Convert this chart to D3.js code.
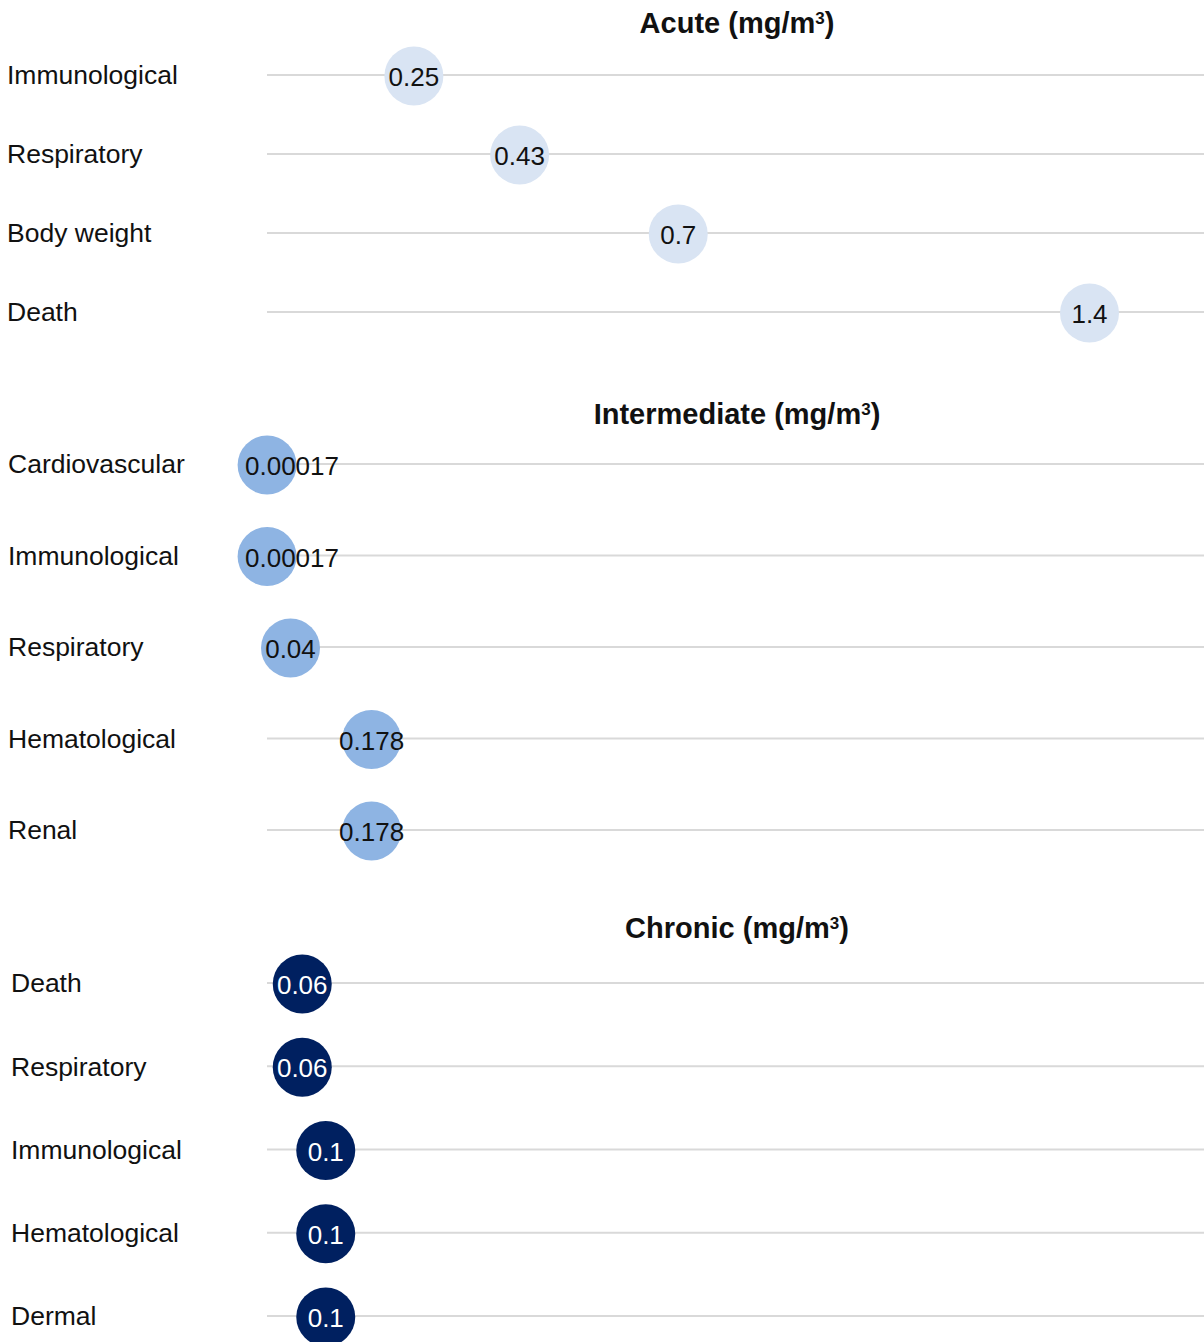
<!DOCTYPE html>
<html>
<head>
<meta charset="utf-8">
<script src="https://cdn.jsdelivr.net/npm/d3@7"></script>
<style>
  body { margin: 0; background: #fff; }
  svg { display: block; font-family: "Liberation Sans", Arial, sans-serif; }
</style>
</head>
<body>
<div id="chart"></div>
<script>
const width = 1204;
const height = 1342;

// data
const acuteLabels = ['Immunological', 'Respiratory', 'Body weight', 'Death'];
const acuteValues = [0.25, 0.43, 0.7, 1.4];
const intermediateLabels = ['Cardiovascular', 'Immunological', 'Respiratory', 'Hematological', 'Renal'];
const intermediateValues = [0.00017, 0.00017, 0.04, 0.178, 0.178];
const intermediateText = ['0.00017', '0.00017', '0.04', '0.178', '0.178'];
const chronicLabels = ['Death', 'Respiratory', 'Immunological', 'Hematological', 'Dermal'];
const chronicValues = [0.06, 0.06, 0.1, 0.1, 0.1];
const panelTitles = ['Acute (mg/m', 'Intermediate (mg/m', 'Chronic (mg/m'];

// layout
const panels = [
  {title: panelTitles[0], labels: acuteLabels, values: acuteValues, text: acuteValues.map(String),
    rows: [75, 312], titleY: 23, labelX: 7, fill: '#d9e4f3', textColor: '#111'},
  {title: panelTitles[1], labels: intermediateLabels, values: intermediateValues, text: intermediateText,
    rows: [464, 830], titleY: 414, labelX: 8, fill: '#8eb4e3', textColor: '#111'},
  {title: panelTitles[2], labels: chronicLabels, values: chronicValues, text: chronicValues.map(String),
    rows: [983, 1316], titleY: 928, labelX: 11, fill: '#002060', textColor: '#fff'},
];

const x = d3.scaleLinear().domain([0, 1.6]).range([267, 1207]);
const r = 29.5;

const svg = d3.select('#chart').append('svg')
  .attr('width', width).attr('height', height);

panels.forEach((p) => {
  const g = svg.append('g');
  const y = d3.scalePoint().domain(p.labels.map((d, i) => i)).range(p.rows);
  const rows = p.labels.map((label, i) => ({label, value: p.values[i], text: p.text[i], i}));

  const title = g.append('text')
    .attr('x', (x.range()[0] + x.range()[1]) / 2)
    .attr('y', p.titleY)
    .attr('dy', '0.35em')
    .attr('text-anchor', 'middle')
    .style('font-size', '29px')
    .style('font-weight', 'bold')
    .style('fill', '#111')
    .text(p.title);
  title.append('tspan')
    .attr('baseline-shift', 'super')
    .style('font-size', '17px')
    .text('3');
  title.append('tspan').text(')');

  g.selectAll('.grid')
    .data(rows)
    .enter()
    .append('line')
    .attr('class', 'grid')
    .attr('x1', x(0))
    .attr('x2', width)
    .attr('y1', (d) => y(d.i))
    .attr('y2', (d) => y(d.i))
    .style('stroke', '#d9d9d9')
    .style('stroke-width', 2);

  g.selectAll('.cat')
    .data(rows)
    .enter()
    .append('text')
    .attr('class', 'cat')
    .attr('x', p.labelX)
    .attr('y', (d) => y(d.i))
    .attr('dy', '0.35em')
    .style('font-size', '26.5px')
    .style('fill', '#111')
    .text((d) => d.label);

  g.selectAll('circle')
    .data(rows)
    .enter()
    .append('circle')
    .attr('cx', (d) => x(d.value))
    .attr('cy', (d) => y(d.i) + 1)
    .attr('r', r)
    .style('fill', p.fill);

  g.selectAll('.val')
    .data(rows)
    .enter()
    .append('text')
    .attr('class', 'val')
    .attr('y', (d) => y(d.i) + 2)
    .attr('dy', '0.35em')
    .attr('text-anchor', 'middle')
    .style('font-size', '26px')
    .style('fill', p.textColor)
    .text((d) => d.text)
    .attr('x', function(d) {
      const w = this.getComputedTextLength();
      const minLeft = x(0) - 22; // labels are kept from running past the left edge
      return Math.max(x(d.value), minLeft + w / 2);
    });
});
</script>
</body>
</html>
